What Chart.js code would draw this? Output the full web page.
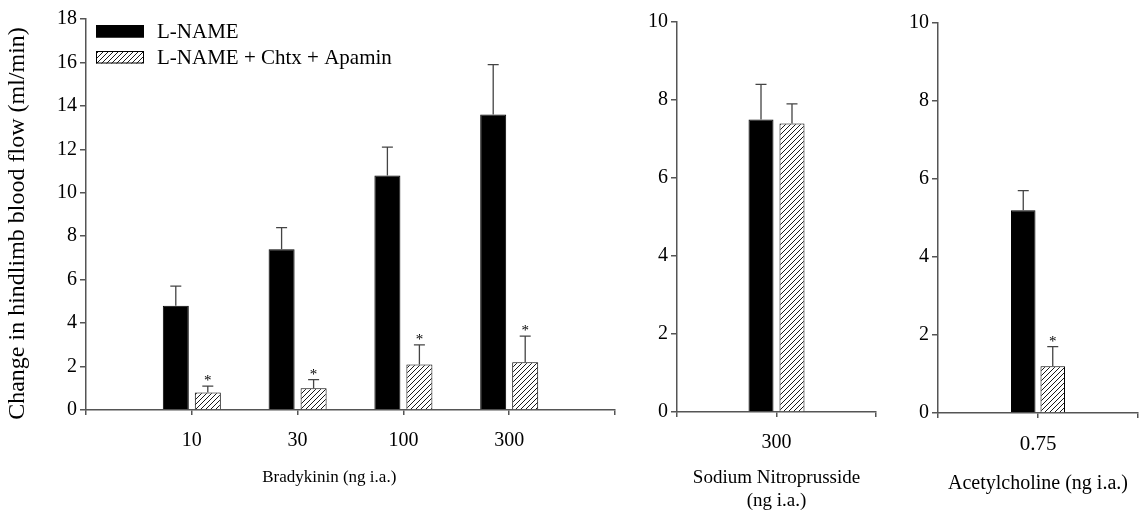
<!DOCTYPE html>
<html>
<head>
<meta charset="utf-8">
<script src="https://cdn.jsdelivr.net/npm/chart.js@4.4.1/dist/chart.umd.min.js"></script>
<style>
  html, body { margin: 0; padding: 0; background: #fff; }
  #wrap { position: relative; width: 1141px; height: 517px; overflow: hidden; }
  canvas { position: absolute; top: 0; }
</style>
</head>
<body>
<div id="wrap">
  <canvas id="bk" width="620" height="517" style="left:0"></canvas>
  <canvas id="snp" width="262" height="517" style="left:620px"></canvas>
  <canvas id="ach" width="259" height="517" style="left:882px"></canvas>
</div>
<script>
// series names
const seriesNames = ['L-NAME', 'L-NAME + Chtx + Apamin'];

// Bradykinin doses and responses
const bkDoses = ['10', '30', '100', '300'];
const bkLname = [4.8, 7.4, 10.8, 13.6];
const bkLnameSem = [0.9, 1.0, 1.3, 2.3];
const bkBlock = [0.8, 1.0, 2.1, 2.2];
const bkBlockSem = [0.3, 0.4, 0.9, 1.2];
const bkStars = [true, true, true, true];

// Sodium nitroprusside
const snpDoses = ['300'];
const snpLname = [7.5];
const snpLnameSem = [0.9];
const snpBlock = [7.4];
const snpBlockSem = [0.5];
const snpStars = [false];

// Acetylcholine
const achDoses = ['0.75'];
const achLname = [5.2];
const achLnameSem = [0.5];
const achBlock = [1.2];
const achBlockSem = [0.5];
const achStars = [true];

const bkTicks = [0, 2, 4, 6, 8, 10, 12, 14, 16, 18];
const smallTicks = [0, 2, 4, 6, 8, 10];

const FONT = "'Liberation Serif', 'Times New Roman', serif";
const AXIS = '#555';
const NB = '\u00a0';

function hatch() {
  const c = document.createElement('canvas');
  c.width = 5; c.height = 5;
  const g = c.getContext('2d');
  g.fillStyle = '#fff';
  g.fillRect(0, 0, 5, 5);
  g.strokeStyle = '#000';
  g.lineWidth = 0.9;
  g.beginPath();
  g.moveTo(0, 5); g.lineTo(5, 0);
  g.moveTo(-1, 1); g.lineTo(1, -1);
  g.moveTo(4, 6); g.lineTo(6, 4);
  g.stroke();
  return g.createPattern(c, 'repeat');
}
const hatchFill = hatch();

// pad categories with empty slots at both ends so ticks sit at the axis ends
const pad = (arr, blank) => [blank, ...arr, blank];

// error bars + asterisks
const errorBars = {
  id: 'errorBars',
  afterDatasetsDraw(chart) {
    const ctx = chart.ctx;
    const y = chart.scales.y;
    chart.data.datasets.forEach((ds, i) => {
      const meta = chart.getDatasetMeta(i);
      meta.data.forEach((el, j) => {
        const v = ds.data[j];
        if (v == null) return;
        const top = y.getPixelForValue(v + ds.sem[j]);
        ctx.save();
        ctx.strokeStyle = '#444';
        ctx.lineWidth = 1.3;
        ctx.beginPath();
        ctx.moveTo(el.x, el.y);
        ctx.lineTo(el.x, top);
        ctx.moveTo(el.x - 5.5, top);
        ctx.lineTo(el.x + 5.5, top);
        ctx.stroke();
        if (ds.stars && ds.stars[j]) {
          ctx.fillStyle = '#000';
          ctx.font = '15px ' + FONT;
          ctx.textAlign = 'center';
          ctx.textBaseline = 'alphabetic';
          ctx.fillText('*', el.x, top - 1);
        }
        ctx.restore();
      });
    });
  }
};

// legend drawn inside the plot area, top left
const boxLegend = {
  id: 'boxLegend',
  afterDraw(chart) {
    if (!chart.options.plugins.boxLegend.show) return;
    const ctx = chart.ctx;
    const x0 = chart.chartArea.left + 10;
    chart.data.datasets.forEach((ds, i) => {
      const yc = 31 + i * 26;
      ctx.save();
      ctx.fillStyle = ds.backgroundColor;
      ctx.fillRect(x0, yc - 6, 48, 12.5);
      ctx.strokeStyle = '#000';
      ctx.lineWidth = 1;
      ctx.strokeRect(x0 + 0.5, yc - 5.5, 47, 11.5);
      ctx.fillStyle = '#000';
      ctx.font = '21px ' + FONT;
      ctx.textBaseline = 'middle';
      ctx.fillText(ds.label, x0 + 61, yc + 1);
      ctx.restore();
    });
  }
};

function panel(id, doses, a, aSem, b, bSem, stars, opt) {
  return new Chart(document.getElementById(id), {
    type: 'bar',
    data: {
      labels: pad(doses, ''),
      datasets: [
        {
          label: seriesNames[0],
          data: pad(a, null),
          sem: pad(aSem, null),
          backgroundColor: '#000',
          borderColor: '#000',
          borderWidth: 1,
        },
        {
          label: seriesNames[1],
          data: pad(b, null),
          sem: pad(bSem, null),
          stars: pad(stars, false),
          backgroundColor: hatchFill,
          borderColor: '#000',
          borderWidth: 1,
        },
      ],
    },
    options: {
      responsive: false,
      animation: false,
      categoryPercentage: opt.catPct,
      barPercentage: opt.barPct,
      layout: { padding: { top: opt.top, right: opt.right, left: 0, bottom: 0 } },
      plugins: {
        legend: { display: false },
        tooltip: { enabled: false },
        boxLegend: { show: opt.legend },
      },
      scales: {
        x: {
          type: 'category',
          offset: false,
          grid: { offset: false, drawOnChartArea: false, drawTicks: true, tickLength: 5, color: AXIS, lineWidth: 1.5 },
          border: { display: true, color: AXIS, width: 1.5 },
          ticks: { color: '#000', font: { family: FONT, size: opt.xTickSize }, padding: 14, maxRotation: 0, autoSkip: false },
          title: {
            display: true,
            text: opt.xTitle,
            color: '#000',
            font: { family: FONT, size: opt.titleSize, lineHeight: 1.2 },
            padding: { top: 0, bottom: opt.titleBottom },
          },
          afterFit: (s) => {
            s.height = opt.xHeight;
            s.paddingLeft = 0;
            s.paddingRight = 0;
          },
        },
        y: {
          min: 0,
          max: opt.max,
          afterBuildTicks: (s) => { s.ticks = opt.ticks.map((v) => ({ value: v })); },
          grid: { drawOnChartArea: false, drawTicks: true, tickLength: 6, color: AXIS, lineWidth: 1.5 },
          border: { display: true, color: AXIS, width: 1.5 },
          ticks: { color: '#000', font: { family: FONT, size: 20 }, padding: 3 },
          title: {
            display: !!opt.yTitle,
            text: opt.yTitle,
            color: '#000',
            font: { family: FONT, size: 24, lineHeight: 1.2 },
            padding: { top: 3, bottom: 0 },
          },
          afterFit: (s) => { s.width = opt.yWidth; },
        },
      },
    },
    plugins: [errorBars, boxLegend],
  });
}

panel('bk', bkDoses, bkLname, bkLnameSem, bkBlock, bkBlockSem, bkStars, {
  catPct: 0.605, barPct: 0.8125, top: 19, right: 5, xHeight: 107, yWidth: 86,
  max: 18, ticks: bkTicks, legend: true, xTickSize: 20,
  xTitle: 'Bradykinin (ng i.a.)' + NB.repeat(10), titleSize: 17, titleBottom: 29,
  yTitle: 'Change in hindlimb blood flow (ml/min)' + NB.repeat(3),
});

panel('snp', snpDoses, snpLname, snpLnameSem, snpBlock, snpBlockSem, snpStars, {
  catPct: 0.623, barPct: 0.806, top: 22, right: 6, xHeight: 105, yWidth: 57,
  max: 10, ticks: smallTicks, legend: false, xTickSize: 20,
  xTitle: ['Sodium Nitroprusside', '(ng i.a.)'], titleSize: 19, titleBottom: 4.5,
});

panel('ach', achDoses, achLname, achLnameSem, achBlock, achBlockSem, achStars, {
  catPct: 0.59, barPct: 0.83, top: 23, right: 3, xHeight: 104, yWidth: 56,
  max: 10, ticks: smallTicks, legend: false, xTickSize: 21,
  xTitle: 'Acetylcholine (ng i.a.)', titleSize: 20, titleBottom: 21,
});
</script>
</body>
</html>
